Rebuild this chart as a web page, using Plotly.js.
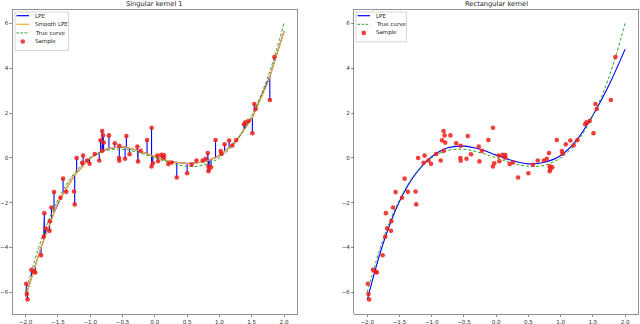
<!DOCTYPE html>
<html>
<head>
<meta charset="utf-8">
<script src="https://cdn.plot.ly/plotly-3.0.1.min.js"></script>
<style>
  html, body { margin: 0; padding: 0; background: #fff; }
  #chart { width: 640px; height: 324px; }
</style>
</head>
<body>
<div id="chart"></div>
<script>
// noisy samples (same in both panels)
const sampleX = [-1.99, -1.98, -1.97, -1.91, -1.87, -1.85, -1.76, -1.72, -1.71, -1.69,
  -1.63, -1.625, -1.60, -1.56, -1.46, -1.42, -1.37, -1.25, -1.24, -1.21,
  -1.125, -1.11, -1.05, -1.01, -0.93, -0.86, -0.84, -0.815, -0.815, -0.80,
  -0.79, -0.71, -0.62, -0.555, -0.55, -0.55, -0.46, -0.44, -0.39, -0.27,
  -0.26, -0.22, -0.12, -0.05, -0.05, -0.03, 0.04, 0.05, 0.10, 0.14,
  0.14, 0.21, 0.26, 0.34, 0.50, 0.57, 0.645, 0.74, 0.785, 0.82,
  0.83, 0.83, 0.84, 0.87, 0.94, 1.02, 1.03, 1.08, 1.15, 1.20,
  1.26, 1.38, 1.40, 1.45, 1.51, 1.54, 1.56, 1.78, 1.85];
const sampleY = [-5.62, -6.08, -6.32, -5.00, -5.08, -5.12, -4.35, -3.52, -2.47, -3.15,
  -3.26, -2.83, -2.22, -1.53, -1.78, -0.93, -1.52, -1.50, -2.08, -0.01,
  -0.22, 0.10, -0.12, -0.27, 0.17, -0.12, 0.78, 1.20, 0.31, 1.00,
  0.68, 1.00, 0.65, -0.01, 0.54, -0.13, -0.04, 0.97, 0.16, 0.50,
  -0.16, 0.31, 0.79, 1.34, -0.39, -0.24, 0.10, -0.15, 0.13, 0.12,
  0.01, -0.28, -0.21, -0.88, -0.69, -0.31, -0.12, -0.12, -0.04, 0.21,
  -0.38, -0.60, -0.50, -0.42, 0.79, 0.30, 0.18, 0.60, 0.77, 0.55,
  0.79, 1.50, 1.58, 1.64, 1.10, 2.40, 2.18, 2.58, 4.50];

// curves on a coarse grid
const gridX = [-2, -1.75, -1.5, -1.25, -1, -0.75, -0.5, -0.25, 0, 0.25, 0.5, 0.75, 1, 1.25, 1.5, 1.75, 2];
const trueY = [-6.0, -3.61, -1.88, -0.70, 0.0, 0.33, 0.38, 0.23, 0.0, -0.23, -0.38, -0.33, 0.0, 0.70, 1.88, 3.61, 6.0];
const smoothY = [-6.2, -3.9, -2.0, -0.8, 0.0, 0.4, 0.5, 0.32, 0.05, -0.18, -0.25, -0.2, 0.08, 0.72, 1.75, 3.35, 5.65];
const rectY = [-6.35, -3.8, -1.95, -0.72, 0.05, 0.45, 0.52, 0.38, 0.12, -0.12, -0.27, -0.2, 0.1, 0.8, 1.9, 3.25, 4.85];

// singular-kernel LPE: follows the smooth estimate and spikes to every sample
const atSmooth = (x) => {
    for (let i = 0; i < gridX.length - 1; i++) {
        if (x <= gridX[i + 1]) {
            const t = (x - gridX[i]) / (gridX[i + 1] - gridX[i]);
            return smoothY[i] + t * (smoothY[i + 1] - smoothY[i]);
        }
    }
    return smoothY[smoothY.length - 1];
};
const lpeX = [gridX[0]];
const lpeY = [smoothY[0]];
sampleX.forEach((x, i) => {
    const base = atSmooth(x);
    lpeX.push(x, x, x);
    lpeY.push(base, sampleY[i], base);
});
lpeX.push(gridX[gridX.length - 1]);
lpeY.push(smoothY[smoothY.length - 1]);

const BLUE = '#0000ff';
const ORANGE = '#f7ac2f';
const GREEN = '#2ca02c';
const RED = 'rgba(236,30,25,0.85)';
const DASH = '3px,2px';

const traces = [
    { x: lpeX, y: lpeY, type: 'scatter', mode: 'lines', name: 'LPE',
      line: { color: BLUE, width: 1.1 }, xaxis: 'x', yaxis: 'y' },
    { x: gridX, y: smoothY, type: 'scatter', mode: 'lines', name: 'Smooth LPE',
      line: { color: ORANGE, width: 1.3 }, xaxis: 'x', yaxis: 'y' },
    { x: gridX, y: trueY, type: 'scatter', mode: 'lines', name: 'True curve',
      line: { color: GREEN, width: 1, dash: DASH, shape: 'spline' }, xaxis: 'x', yaxis: 'y' },
    { x: sampleX, y: sampleY, type: 'scatter', mode: 'markers', name: 'Sample',
      marker: { color: RED, size: 4.6 }, xaxis: 'x', yaxis: 'y' },

    { x: gridX, y: rectY, type: 'scatter', mode: 'lines', name: 'LPE',
      line: { color: BLUE, width: 1.1, shape: 'spline' }, xaxis: 'x2', yaxis: 'y2' },
    { x: gridX, y: trueY, type: 'scatter', mode: 'lines', name: 'True curve',
      line: { color: GREEN, width: 1, dash: DASH, shape: 'spline' }, xaxis: 'x2', yaxis: 'y2' },
    { x: sampleX, y: sampleY, type: 'scatter', mode: 'markers', name: 'Sample',
      marker: { color: RED, size: 4.6 }, xaxis: 'x2', yaxis: 'y2' },
];

const tickFont = { family: 'DejaVu Sans', size: 5.6, color: '#333' };
const xTicks = [-2, -1.5, -1, -0.5, 0, 0.5, 1, 1.5, 2];
const yTicks = [-6, -4, -2, 0, 2, 4, 6];

const xAxis = (domain, anchor) => ({
    domain, anchor, range: [-2.2, 2.2], tickvals: xTicks, tickformat: '.1f',
    ticks: 'outside', ticklen: 2.5, tickwidth: 0.6, tickcolor: '#444',
    showline: true, mirror: true, linecolor: '#777', linewidth: 0.8,
    showgrid: false, zeroline: false, tickfont: tickFont,
});
const yAxis = (anchor) => ({
    domain: [0.0309, 0.9707], anchor, range: [-6.97, 6.62], tickvals: yTicks,
    ticks: 'outside', ticklen: 2.5, tickwidth: 0.6, tickcolor: '#444',
    showline: true, mirror: true, linecolor: '#777', linewidth: 0.8,
    showgrid: false, zeroline: false, tickfont: tickFont,
});
const titleFont = { family: 'DejaVu Sans', size: 6.7, color: '#222' };

// compact matplotlib-style legends, drawn in pixel terms of the 640x324 page
const px = (v) => v / 640;
const py = (v) => 1 - v / 324;
const shapes = [];
const annotations = [
    { text: 'Singular kernel 1', xref: 'x domain', yref: 'paper', x: 0.5, y: 0.988,
      xanchor: 'center', yanchor: 'middle', showarrow: false, font: titleFont },
    { text: 'Rectangular kernel', xref: 'x2 domain', yref: 'paper', x: 0.5, y: 0.988,
      xanchor: 'center', yanchor: 'middle', showarrow: false, font: titleFont },
];
const addLegend = (left, right, entries) => {
    const top = 12;
    const bottom = top + 4 + entries.length * 8.6;
    shapes.push({ type: 'rect', xref: 'paper', yref: 'paper',
        x0: px(left), x1: px(right), y0: py(top), y1: py(bottom),
        line: { color: '#cccccc', width: 0.8 }, fillcolor: 'rgba(255,255,255,0.85)', layer: 'above' });
    entries.forEach((e, i) => {
        const yc = top + 3.7 + i * 8.6;
        const h0 = left + 1.5, h1 = left + 14;
        if (e.kind === 'marker') {
            const cx = (h0 + h1) / 2, r = 2.3;
            shapes.push({ type: 'circle', xref: 'paper', yref: 'paper',
                x0: px(cx - r), x1: px(cx + r), y0: py(yc - r), y1: py(yc + r),
                line: { width: 0 }, fillcolor: e.color, layer: 'above' });
        } else {
            shapes.push({ type: 'line', xref: 'paper', yref: 'paper',
                x0: px(h0), x1: px(h1), y0: py(yc), y1: py(yc),
                line: { color: e.color, width: e.width, dash: e.dash || 'solid' }, layer: 'above' });
        }
        annotations.push({ text: e.name, xref: 'paper', yref: 'paper', x: px(left + 18), y: py(yc),
            xanchor: 'left', yanchor: 'middle', showarrow: false,
            font: { family: 'DejaVu Sans', size: 5.5, color: '#222' } });
    });
};
addLegend(15, 68.5, [
    { name: 'LPE', color: BLUE, width: 1.2 },
    { name: 'Smooth LPE', color: ORANGE, width: 1.2 },
    { name: 'True curve', color: GREEN, width: 1, dash: '2.5px,1.5px' },
    { name: 'Sample', color: RED, kind: 'marker' },
]);
addLegend(356, 406.5, [
    { name: 'LPE', color: BLUE, width: 1.2 },
    { name: 'True curve', color: GREEN, width: 1, dash: '2.5px,1.5px' },
    { name: 'Sample', color: RED, kind: 'marker' },
]);

const layout = {
    width: 640, height: 324,
    margin: { l: 0, r: 0, t: 0, b: 0 },
    paper_bgcolor: '#fff', plot_bgcolor: '#fff',
    xaxis: xAxis([0.0198, 0.464], 'y'),
    yaxis: yAxis('x'),
    xaxis2: xAxis([0.5536, 0.9969], 'y2'),
    yaxis2: yAxis('x2'),
    shapes, annotations,
    showlegend: false,
};

Plotly.newPlot('chart', traces, layout, { staticPlot: true });
</script>
</body>
</html>
